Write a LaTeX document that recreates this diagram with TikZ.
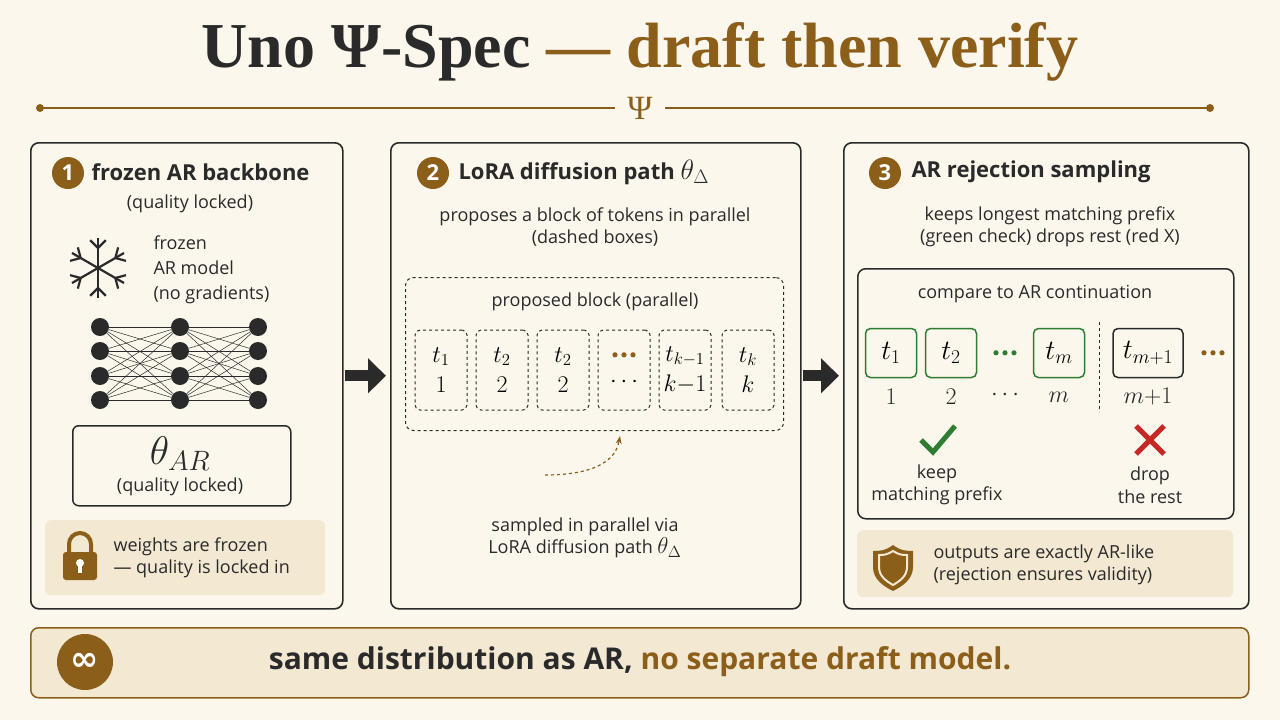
\RequirePackage{fix-cm}
\documentclass[tikz,border=0pt]{standalone}
\usepackage{fontspec}
\setmainfont{Open Sans}
\newfontfamily\titlefont{Liberation Serif}
\newfontfamily\symfont{DejaVu Sans}
\usetikzlibrary{arrows.meta}
\definecolor{bg}{HTML}{FBF7EC}
\definecolor{gold}{HTML}{8B5E1A}
\definecolor{ink}{HTML}{2A2A2A}
\definecolor{soft}{HTML}{F3E8D2}
\definecolor{okg}{HTML}{2E7D32}
\definecolor{bad}{HTML}{C62828}
\newcommand{\fs}[1]{\fontsize{#1}{\fpeval{#1*1.25}}\selectfont}
\newcommand{\bigdots}[1]{\tikz[baseline=-3pt]{\foreach \i in {0,1,2} \fill[#1] (\i*9pt,0) circle (2.6pt);}}
\tikzset{
  panel/.style={draw=ink,line width=1.6pt,rounded corners=8pt,fill=bg},
  num/.style={circle,fill=gold,text=white,minimum size=32pt,inner sep=0pt,font=\fs{22}\bfseries},
  ptitle/.style={anchor=west,text=ink,font=\fs{22}\bfseries},
  txt/.style={text=ink,font=\fs{18},align=center},
  tok/.style={draw=ink,dashed,line width=1pt,rounded corners=5pt,minimum width=52pt,minimum height=80pt,align=center,font=\fs{24}},
  gtok/.style={draw=okg,line width=1.5pt,rounded corners=5pt,minimum width=51pt,minimum height=49pt,font=\fs{28}},
  neur/.style={circle,fill=ink,minimum size=18pt,inner sep=0pt},
  bigarrow/.style={-{Triangle[length=18pt,width=34pt]},line width=11pt,draw=ink},
}
\begin{document}
\begin{tikzpicture}[x=1pt,y=-1pt]
\fill[bg] (0,0) rectangle (1280,720);
\useasboundingbox (0,0) rectangle (1280,720);
% title
\node[font=\titlefont\fs{64}\bfseries] (title) at (640,52) {\textcolor{ink}{Uno Ψ-Spec} \textcolor{gold}{— draft then verify}};
\node[text=gold,font=\titlefont\fs{34}] (psi) at (640,108) {Ψ};
\coordinate (l1) at (40,108); \coordinate (l2) at (1210,108);
\draw[gold,line width=1.5pt] (l1) -- (615,108) (665,108) -- (l2);
\fill[gold] (l1) circle (4) (l2) circle (4);
% panels
\node[panel,minimum width=312pt,minimum height=466pt,anchor=north west] (p1) at (30,142) {};
\node[panel,minimum width=410pt,minimum height=466pt,anchor=north west] (p2) at (390,142) {};
\node[panel,minimum width=405pt,minimum height=466pt,anchor=north west] (p3) at (843,142) {};
\draw[bigarrow] ([xshift=1pt]p1.east) -- ([xshift=-4pt]p2.west);
\draw[bigarrow] ([xshift=1pt]p2.east) -- ([xshift=-4pt]p3.west);
% panel 1
\node[num] (n1) at (68,173) {1};
\node[ptitle] (t1) at (88,172) {frozen AR backbone};
\node[txt] (s1) at (190,204) {(quality locked)};
\begin{scope}[shift={(98,268)},ink,line width=2.2pt]
 \foreach \a in {90,30,-30} {
   \draw (\a:30) -- (\a+180:30);
   \foreach \s in {0,180} {
     \draw (\a+\s:30)++(\a+\s+180:10) -- ++(\a+\s+45:11);
     \draw (\a+\s:30)++(\a+\s+180:10) -- ++(\a+\s-45:11);
   }}
\end{scope}
\node[txt,align=left,anchor=west,font=\fs{18}\linespread{1.1}\selectfont] (fz) at (150,270) {frozen\\AR model\\(no gradients)};
\foreach \c/\x in {1/100,2/180,3/258}
  \foreach \r/\y in {1/327,2/351,3/376,4/400}
    \node[neur] (v\c\r) at (\x,\y) {};
\foreach \i in {1,...,4}\foreach \j in {1,...,4}{
  \draw[ink,line width=0.5pt] (v1\i) -- (v2\j); \draw[ink,line width=0.5pt] (v2\i) -- (v3\j);}
\node[draw=ink,line width=1.5pt,rounded corners=6pt,minimum width=218pt,minimum height=80pt,anchor=north west] (th) at (72,425) {};
\node[text=ink,font=\fs{40}] (thl) at (180,454) {$\theta_{AR}$};
\node[txt] (thq) at (180,487) {(quality locked)};
\node[fill=soft,rounded corners=6pt,minimum width=280pt,minimum height=75pt,anchor=north west] (lk) at (45,520) {};
\begin{scope}[shift={(80,558)}]
 \draw[gold,line width=4pt] (-11,-6) -- (-11,-14) arc[start angle=180,end angle=360,radius=11] -- (11,-6);
 \fill[gold,rounded corners=3pt] (-17,-6) rectangle (17,22);
 \fill[white] (0,5) circle (4); \fill[white] (-1.8,5) rectangle (1.8,15);
\end{scope}
\node[txt,align=left,anchor=west] (lkt) at (110,558) {weights are frozen\\— quality is locked in};
% panel 2
\node[num] (n2) at (433,173) {2};
\node[ptitle] (t2) at (455,172) {LoRA diffusion path {\fs{28}$\theta_\Delta$}};
\node[txt] (s2) at (595,227) {proposes a block of tokens in parallel\\(dashed boxes)};
\node[draw=ink,dashed,line width=1pt,rounded corners=8pt,minimum width=378pt,minimum height=153pt,anchor=north west] (blk) at (405,277) {};
\node[txt] (pb) at (595,302) {proposed block (parallel)};
\node[tok] (k1) at (441,370) {$t_1$\\$1$};
\node[tok] (k2) at (502,370) {$t_2$\\$2$};
\node[tok] (k3) at (563,370) {$t_2$\\$2$};
\node[tok] (k4) at (624,370) {\bigdots{gold}\\$\cdots$};
\node[tok] (k5) at (685,370) {$t_{k-1}$\\$k{-}1$};
\node[tok] (k6) at (748,370) {$t_k$\\$k$};
\coordinate (cs) at (545,475);
\coordinate (ce) at (620,436);
\draw[gold,dashed,line width=1.2pt,-{Stealth[length=8pt]}] (cs) to[out=0,in=-100] (ce);
\node[txt] (samp) at (585,538) {sampled in parallel via\\LoRA diffusion path {\fs{23}$\theta_\Delta$}};
% panel 3
\node[num] (n3) at (885,173) {3};
\node[ptitle] (t3) at (908,172) {AR rejection sampling};
\node[txt] (s3) at (1050,227) {keeps longest matching prefix\\(green check) drops rest (red X)};
\node[draw=ink,line width=1.5pt,rounded corners=8pt,minimum width=376pt,minimum height=250pt,anchor=north west] (cmp) at (857,268) {};
\node[txt] (ct) at (1035,294) {compare to AR continuation};
\node[gtok] (g1) at (891,353) {$t_1$};
\node[gtok] (g2) at (951,353) {$t_2$};
\node (gd) at (1005,353) {\bigdots{okg}};
\node[gtok] (gm) at (1059,353) {$t_m$};
\node[gtok,draw=ink,minimum width=70pt] (gn) at (1148,353) {$t_{m+1}$};
\node (gd2) at (1213,353) {\bigdots{gold}};
\coordinate (dv1) at (1099,322); \coordinate (dv2) at (1099,412);
\draw[ink,dashed,line width=1pt] (dv1) -- (dv2);
\foreach \n/\l in {g1/1,g2/2,gm/m,gn/m{+}1}
  \node[text=ink,font=\fs{24}] at ([yshift=-44pt]\n.center) {$\l$};
\node[text=ink,font=\fs{24}] at (1005,395) {$\cdots$};
\draw[okg,line width=5pt] (921,440) -- (933,452) -- (955,426);
\draw[bad,line width=5pt] (1136,426) -- (1164,454) (1164,426) -- (1136,454);
\node[txt] (kp) at (937,485) {keep\\matching prefix};
\node[txt] (dr) at (1150,485) {drop\\the rest};
\node[fill=soft,rounded corners=6pt,minimum width=376pt,minimum height=67pt,anchor=north west] (sh) at (857,530) {};
\begin{scope}[shift={(893,567)}]
 \fill[gold] (0,-22) .. controls (8,-16) and (14,-16) .. (20,-16) -- (20,0) .. controls (20,12) and (10,19) .. (0,24) .. controls (-10,19) and (-20,12) .. (-20,0) -- (-20,-16) .. controls (-14,-16) and (-8,-16) .. (0,-22) -- cycle;
 \draw[soft,line width=2pt] (0,-16) .. controls (6,-12) and (10,-12) .. (14,-12) -- (14,0) .. controls (14,9) and (7,14) .. (0,18) .. controls (-7,14) and (-14,9) .. (-14,0) -- (-14,-12) .. controls (-10,-12) and (-6,-12) .. (0,-16) -- cycle;
\end{scope}
\node[txt,align=left,anchor=west] (sht) at (930,565) {outputs are exactly AR-like\\(rejection ensures validity)};
% bottom bar
\node[draw=gold,line width=1.5pt,fill=soft,rounded corners=8pt,minimum width=1218pt,minimum height=70pt,anchor=north west] (bar) at (30,627) {};
\node[circle,fill=gold,minimum size=56pt,inner sep=0pt,text=white,font=\symfont\fs{34}\bfseries] (inf) at (85,662) {∞};
\node[font=\fs{30}\bfseries] (bt) at (640,662) {\textcolor{ink}{same distribution as AR,} \textcolor{gold}{no separate draft model.}};
\end{tikzpicture}
\end{document}
